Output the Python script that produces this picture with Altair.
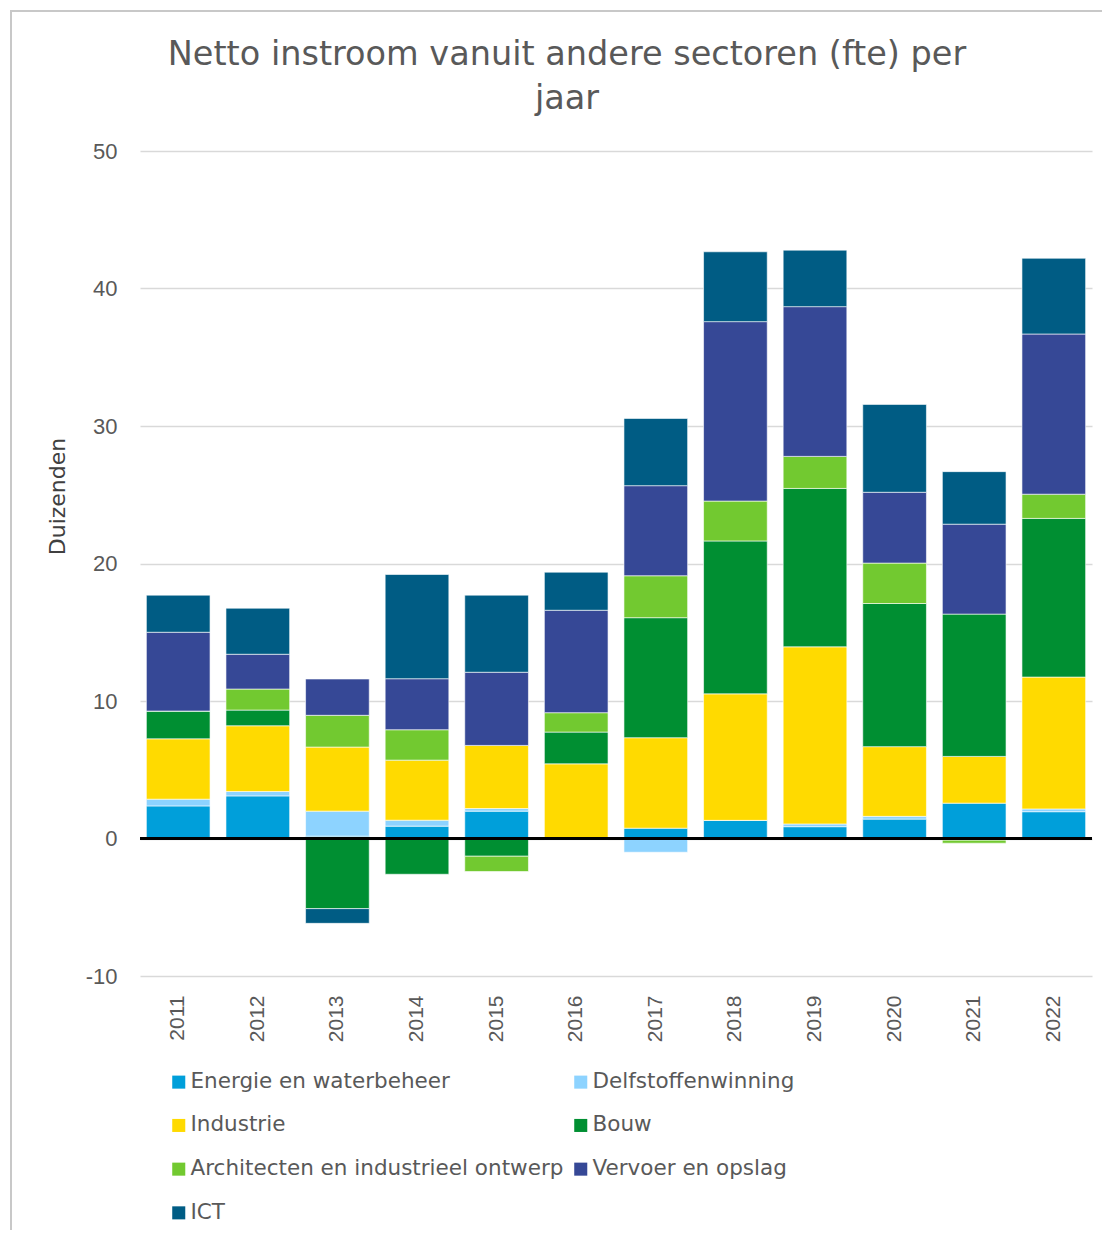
import altair as alt
import pandas as pd

years = ["2011", "2012", "2013", "2014", "2015", "2016", "2017", "2018", "2019", "2020", "2021", "2022"]
series = ["Energie en waterbeheer", "Delfstoffenwinning", "Industrie", "Bouw",
          "Architecten en industrieel ontwerp", "Vervoer en opslag", "ICT"]
colors = ["#009FDA", "#8DD3FF", "#FFDA00", "#008F32", "#72C930", "#364896", "#005C84"]

energie = [2.37, 3.10, 0.17, 0.90, 1.99, 0.00, 0.75, 1.32, 0.86, 1.41, 2.57, 1.95]
delfstoffen = [0.49, 0.32, 1.82, 0.43, 0.19, -0.10, -1.00, 0.00, 0.20, 0.20, -0.12, 0.20]
industrie = [4.39, 4.78, 4.66, 4.37, 4.59, 5.43, 6.58, 9.20, 12.88, 5.07, 3.40, 9.59]
bouw = [2.02, 1.14, -5.10, -2.60, -1.29, 2.31, 8.73, 11.12, 11.52, 10.41, 10.35, 11.54]
architecten = [0.00, 1.53, 2.31, 2.21, -1.11, 1.41, 3.05, 2.90, 2.33, 2.94, -0.22, 1.76]
vervoer = [5.73, 2.53, 2.64, 3.71, 5.32, 7.45, 6.55, 13.05, 10.89, 5.15, 6.54, 11.65]
ict = [2.70, 3.35, -1.07, 7.58, 5.61, 2.77, 4.89, 5.08, 4.11, 6.39, 3.82, 5.51]

values = [energie, delfstoffen, industrie, bouw, architecten, vervoer, ict]
rows = []
for si, (name, vals) in enumerate(zip(series, values)):
    for y, v in zip(years, vals):
        rows.append({"jaar": y, "sector": name, "waarde": v, "volgorde": si})
df = pd.DataFrame(rows)

SANS = "Liberation Sans"
WIDE = "DejaVu Sans"
GREY = "#595959"

bars = alt.Chart(df).mark_bar(stroke="white", strokeWidth=0.6).encode(
    x=alt.X("jaar:N", sort=years,
            scale=alt.Scale(paddingInner=0.2, paddingOuter=0.08),
            axis=alt.Axis(title=None, labelAngle=270, labelAlign="right", labelBaseline="middle",
                          labelPadding=19, ticks=False, domain=False, labelFontSize=21,
                          labelColor=GREY, labelFont=SANS)),
    y=alt.Y("sum(waarde):Q", stack="zero",
            scale=alt.Scale(domain=[-10, 50], nice=False),
            axis=alt.Axis(title="Duizenden", values=[-10, 0, 10, 20, 30, 40, 50],
                          labelExpr="replace(datum.label, '\u2212', '-')",
                          grid=True, gridColor="#D9D9D9", gridWidth=1.5, domain=False, ticks=False,
                          labelPadding=23, labelFontSize=22, labelColor=GREY, labelFont=SANS,
                          titleFontSize=22, titleFont=WIDE, titleColor="#404040",
                          titleFontWeight="normal", titleAngle=270, titleAlign="center",
                          titleBaseline="middle", titleX=-83, titleY=345)),
    color=alt.Color("sector:N",
                    scale=alt.Scale(domain=series, range=colors),
                    legend=alt.Legend(title=None, orient="none", legendX=28, legendY=920,
                                      direction="horizontal", columns=2,
                                      symbolType="square", symbolSize=170,
                                      symbolStrokeWidth=0, labelFontSize=21.5, labelColor=GREY,
                                      labelFont=WIDE, rowPadding=20.7, columnPadding=6,
                                      labelOffset=1, labelLimit=500)),
    order=alt.Order("volgorde:Q", sort="ascending"),
)

zero = alt.Chart(df).mark_rule(color="black", strokeWidth=2).encode(y=alt.datum(0))

frame = alt.Chart(pd.DataFrame({"k": [0]})).mark_rect(
    fill=None, stroke="#C8C8C8", strokeWidth=2
).encode(x=alt.value(-129), x2=alt.value(1100), y=alt.value(-140), y2=alt.value(1200))

chart = alt.layer(frame, bars, zero).properties(
    width=952, height=825,
    autosize=alt.AutoSizeParams(type="none"),
    padding={"left": 132, "top": 143, "right": 10, "bottom": 254},
    title=alt.Title(["Netto instroom vanuit andere sectoren (fte) per", "jaar"],
                    fontSize=33.5, font=WIDE, color=GREY, fontWeight="normal",
                    anchor="middle", frame="group", dx=-49, offset=-106, lineHeight=44),
).configure_view(stroke=None)

chart.save("out.html", embed_options={"renderer": "svg", "actions": False})
